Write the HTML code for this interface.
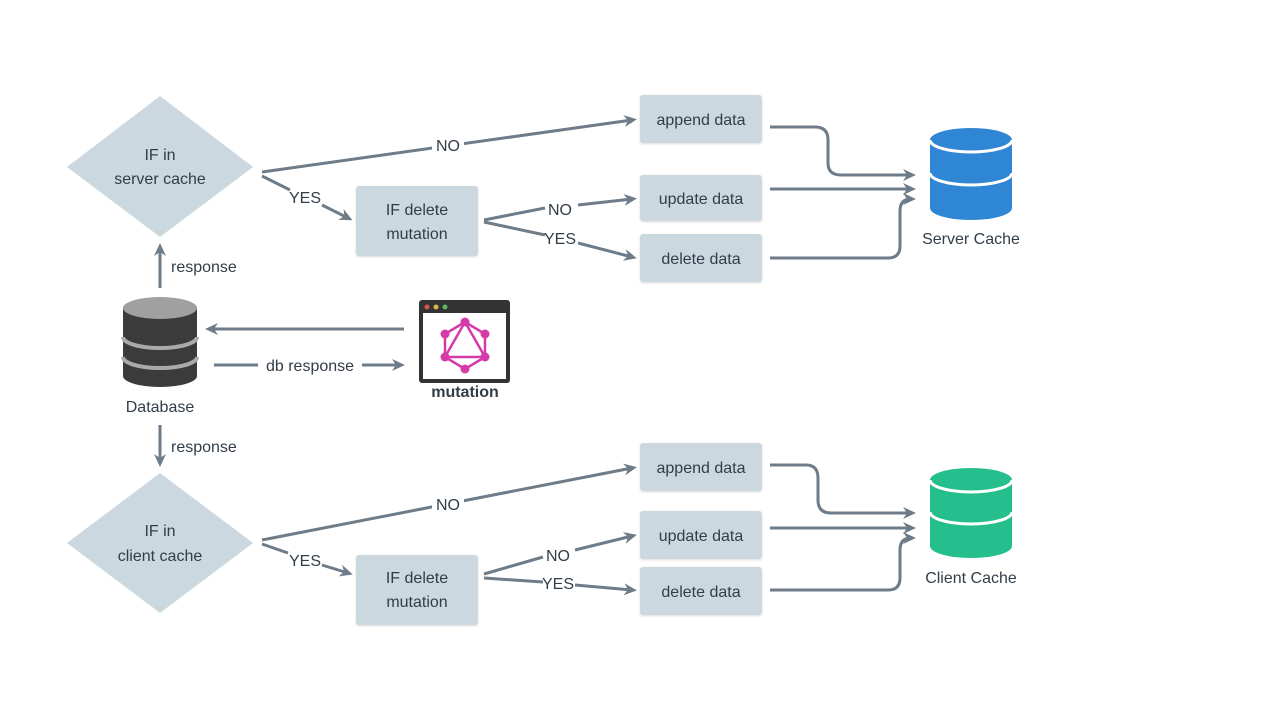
<!DOCTYPE html>
<html><head><meta charset="utf-8"><style>
html,body{margin:0;padding:0;background:#fff;}
svg{display:block;}
text{font-family:"Liberation Sans","DejaVu Sans",sans-serif;fill:#323d47;font-size:16px;}
</style></head><body>
<svg width="1280" height="720" viewBox="0 0 1280 720" xmlns="http://www.w3.org/2000/svg">
<defs>
<marker id="a" markerWidth="14" markerHeight="14" refX="8" refY="7" orient="auto" markerUnits="userSpaceOnUse">
<path d="M0,1 L13,7 L0,13 L4,7 Z" fill="#6d7c88"/>
</marker>
<filter id="s" x="-10%" y="-10%" width="120%" height="130%"><feDropShadow dx="0" dy="1" stdDeviation="1" flood-opacity="0.15"/></filter>
</defs>
<g fill="none" stroke="#6d7c88" stroke-width="3">
<path d="M262,172 L632,120" marker-end="url(#a)"/>
<path d="M262,176 L290,190"/><path d="M322,205 L348,218" marker-end="url(#a)"/>
<path d="M484,220 L545,208"/><path d="M578,205 L632,199" marker-end="url(#a)"/>
<path d="M484,222 L545,235"/><path d="M578,243 L632,257" marker-end="url(#a)"/>
<path d="M770,127 L815,127 Q828,127 828,140 L828,163 Q828,175 841,175 L911,175" marker-end="url(#a)"/>
<path d="M770,189 L911,189" marker-end="url(#a)"/>
<path d="M770,258 L888,258 Q900,258 900,246 L900,211 Q900,199 911,199" marker-end="url(#a)"/>
<path d="M160,288 L160,248" marker-end="url(#a)"/>
<path d="M404,329 L210,329" marker-end="url(#a)"/>
<path d="M214,365 L400,365" marker-end="url(#a)"/>
<path d="M160,425 L160,462" marker-end="url(#a)"/>
<path d="M262,540 L632,468" marker-end="url(#a)"/>
<path d="M262,544 L288,553"/><path d="M322,565 L348,573" marker-end="url(#a)"/>
<path d="M484,574 L543,557"/><path d="M575,550 L632,536" marker-end="url(#a)"/>
<path d="M484,578 L543,582"/><path d="M575,585 L632,590" marker-end="url(#a)"/>
<path d="M770,465 L806,465 Q818,465 818,478 L818,500 Q818,513 831,513 L911,513" marker-end="url(#a)"/>
<path d="M770,528 L911,528" marker-end="url(#a)"/>
<path d="M770,590 L888,590 Q900,590 900,578 L900,550 Q900,538 911,538" marker-end="url(#a)"/>
</g>
<g fill="#fff">
<rect x="432" y="134" width="32" height="22"/>
<rect x="432" y="493" width="32" height="22"/>
<rect x="258" y="354" width="104" height="22"/>
</g>
<g fill="#ccd8e0">
<polygon points="160,96 253,167 160,237 67,167"/>
<polygon points="160,473 253,543 160,613 67,543"/>
<rect x="356" y="186" width="122" height="70" rx="3" filter="url(#s)"/>
<rect x="640" y="95" width="122" height="48" rx="3" filter="url(#s)"/>
<rect x="640" y="175" width="122" height="46" rx="3" filter="url(#s)"/>
<rect x="640" y="234" width="122" height="48" rx="3" filter="url(#s)"/>
<rect x="356" y="555" width="122" height="70" rx="3" filter="url(#s)"/>
<rect x="640" y="443" width="122" height="48" rx="3" filter="url(#s)"/>
<rect x="640" y="511" width="122" height="48" rx="3" filter="url(#s)"/>
<rect x="640" y="567" width="122" height="48" rx="3" filter="url(#s)"/>
</g>
<g>
<path d="M930,140 L930,208 A41,12 0 0 0 1012,208 L1012,140 Z" fill="#2f86d4"/>
<ellipse cx="971" cy="140" rx="41" ry="12" fill="#2f86d4"/>
<path d="M930,140 A41,12 0 0 0 1012,140" fill="none" stroke="#fff" stroke-width="3"/>
<path d="M930,173 A41,12 0 0 0 1012,173" fill="none" stroke="#fff" stroke-width="3"/>
</g>
<g>
<path d="M930,480 L930,546 A41,12 0 0 0 1012,546 L1012,480 Z" fill="#25be8d"/>
<ellipse cx="971" cy="480" rx="41" ry="12" fill="#25be8d"/>
<path d="M930,480 A41,12 0 0 0 1012,480" fill="none" stroke="#fff" stroke-width="3"/>
<path d="M930,512 A41,12 0 0 0 1012,512" fill="none" stroke="#fff" stroke-width="3"/>
</g>
<g>
<path d="M123,308 L123,376 A37,11 0 0 0 197,376 L197,308 Z" fill="#3b3b3b"/>
<ellipse cx="160" cy="308" rx="37" ry="11" fill="#a0a0a0"/>
<path d="M123,337 A37,11 0 0 0 197,337" fill="none" stroke="#aaa" stroke-width="4"/>
<path d="M123,357 A37,11 0 0 0 197,357" fill="none" stroke="#aaa" stroke-width="4"/>
</g>
<g>
<rect x="419" y="300" width="91" height="83" rx="3" fill="#333"/>
<rect x="423" y="313" width="83" height="66" fill="#fff"/>
<circle cx="427" cy="307" r="2.5" fill="#d9534f"/><circle cx="436" cy="307" r="2.5" fill="#d4b84a"/><circle cx="445" cy="307" r="2.5" fill="#5cb85c"/>
<g stroke="#d63aa8" stroke-width="2.5" fill="none">
<polygon points="465,322 485,334 485,357 465,369 445,357 445,334"/>
<polygon points="465,322 485,357 445,357"/>
</g>
<g fill="#d63aa8">
<circle cx="465" cy="322" r="4.5"/><circle cx="485" cy="334" r="4.5"/><circle cx="485" cy="357" r="4.5"/>
<circle cx="465" cy="369" r="4.5"/><circle cx="445" cy="357" r="4.5"/><circle cx="445" cy="334" r="4.5"/>
</g>
</g>
<g text-anchor="middle">
<text x="160" y="160">IF in</text><text x="160" y="184">server cache</text>
<text x="160" y="536">IF in</text><text x="160" y="561">client cache</text>
<text x="417" y="215">IF delete</text><text x="417" y="239">mutation</text>
<text x="417" y="583">IF delete</text><text x="417" y="607">mutation</text>
<text x="701" y="125">append data</text><text x="701" y="204">update data</text><text x="701" y="264">delete data</text>
<text x="701" y="473">append data</text><text x="701" y="541">update data</text><text x="701" y="597">delete data</text>
<text x="971" y="244">Server Cache</text><text x="971" y="583">Client Cache</text>
<text x="160" y="412">Database</text>
<text x="465" y="397" font-weight="bold" font-size="14">mutation</text>
<text x="448" y="151">NO</text><text x="305" y="203">YES</text>
<text x="560" y="215">NO</text><text x="560" y="244">YES</text>
<text x="448" y="510">NO</text><text x="305" y="566">YES</text>
<text x="558" y="561">NO</text><text x="558" y="589">YES</text>
<text x="310" y="371">db response</text>
</g>
<text x="171" y="272">response</text>
<text x="171" y="452">response</text>
</svg>
</body></html>
